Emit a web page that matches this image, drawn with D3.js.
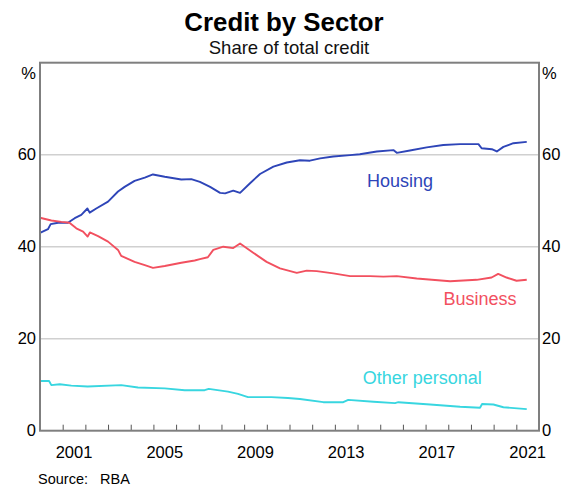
<!DOCTYPE html>
<html>
<head>
<meta charset="utf-8">
<script src="https://cdn.jsdelivr.net/npm/d3@7"></script>
<style>
  html, body { margin: 0; padding: 0; background: #fff; }
  svg { display: block; font-family: "Liberation Sans", Arial, sans-serif; }
</style>
</head>
<body>
<svg id="chart" width="568" height="488"></svg>
<script>
// ---- Data ----
const housingT = [2000.0, 2000.35, 2000.47, 2000.8, 2001.23, 2001.53, 2001.82, 2002.09, 2002.19, 2002.48, 2003.0, 2003.44, 2003.73, 2004.17, 2004.62, 2004.98, 2005.5, 2006.23, 2006.67, 2007.05, 2007.5, 2007.94, 2008.16, 2008.52, 2008.82, 2009.26, 2009.7, 2010.29, 2010.88, 2011.46, 2011.9, 2012.35, 2012.93, 2013.67, 2014.1, 2014.85, 2015.58, 2015.73, 2016.31, 2017.05, 2017.78, 2018.52, 2019.33, 2019.47, 2019.92, 2020.14, 2020.43, 2020.87, 2021.46];
const housingV = [43.0, 43.8, 44.9, 45.2, 45.2, 46.2, 46.9, 48.3, 47.4, 48.3, 49.8, 52.0, 53.0, 54.3, 55.0, 55.7, 55.2, 54.6, 54.7, 54.1, 53.0, 51.7, 51.6, 52.2, 51.7, 53.8, 55.8, 57.4, 58.3, 58.8, 58.7, 59.2, 59.6, 59.9, 60.1, 60.7, 61.0, 60.4, 60.9, 61.6, 62.1, 62.3, 62.3, 61.4, 61.2, 60.7, 61.7, 62.5, 62.8];

const businessT = [2000.0, 2000.5, 2000.94, 2001.3, 2001.6, 2001.9, 2002.1, 2002.2, 2002.56, 2003.0, 2003.44, 2003.58, 2004.17, 2004.62, 2004.98, 2005.5, 2006.23, 2006.82, 2007.05, 2007.4, 2007.64, 2008.08, 2008.52, 2008.82, 2009.4, 2009.99, 2010.58, 2011.32, 2011.76, 2012.2, 2012.93, 2013.67, 2014.55, 2015.14, 2015.73, 2016.61, 2018.08, 2019.25, 2019.91, 2020.2, 2020.57, 2021.01, 2021.46];
const businessV = [46.3, 45.7, 45.4, 45.2, 44.0, 43.3, 42.2, 43.1, 42.3, 41.1, 39.3, 38.0, 36.7, 36.0, 35.4, 35.8, 36.5, 37.0, 37.3, 37.7, 39.3, 40.0, 39.7, 40.7, 38.7, 36.7, 35.3, 34.3, 34.8, 34.7, 34.2, 33.6, 33.6, 33.5, 33.6, 33.1, 32.5, 32.8, 33.3, 34.1, 33.3, 32.6, 32.8];

const otherT = [2000.0, 2000.4, 2000.5, 2000.87, 2001.38, 2002.1, 2003.58, 2004.32, 2005.5, 2006.38, 2007.26, 2007.44, 2008.29, 2008.73, 2009.17, 2010.2, 2010.93, 2011.46, 2012.49, 2013.37, 2013.59, 2014.7, 2015.65, 2015.8, 2017.2, 2018.52, 2019.4, 2019.49, 2019.99, 2020.43, 2021.46];
const otherV = [10.8, 10.8, 9.9, 10.1, 9.8, 9.6, 9.9, 9.4, 9.2, 8.8, 8.8, 9.1, 8.5, 8.0, 7.3, 7.3, 7.1, 6.9, 6.2, 6.2, 6.7, 6.3, 6.0, 6.2, 5.7, 5.2, 5.0, 5.8, 5.7, 5.1, 4.7];

const yTicks = [0, 20, 40, 60];
const xTickYears = d3.range(2001, 2022);
const xLabelYears = [2001, 2005, 2009, 2013, 2017, 2021];

const seriesNames = ["Housing", "Business", "Other personal"];
const colors = ["#2e45b8", "#f2505f", "#38d6e0"];

// ---- Layout ----
const svg = d3.select("#chart");
const L = 40, R = 539, T = 62.7, B = 430.7;

const x = d3.scaleLinear().domain([2000, 2022]).range([L, R]);
const y = d3.scaleLinear().domain([0, 80]).range([B, T]);

// Title
svg.append("text").attr("x", 284).attr("y", 31).attr("text-anchor", "middle")
  .attr("font-size", 25.8).attr("font-weight", "bold").attr("fill", "#000").text("Credit by Sector");
svg.append("text").attr("x", 289).attr("y", 54).attr("text-anchor", "middle")
  .attr("font-size", 18.5).attr("fill", "#111").text("Share of total credit");

// Gridlines
svg.append("g").selectAll("line").data(yTicks.filter(d => d > 0)).join("line")
  .attr("x1", L).attr("x2", R).attr("y1", d => y(d)).attr("y2", d => y(d))
  .attr("stroke", "#d0d0d0").attr("stroke-width", 1.5);

// Left & right axis labels
const leftAxis = d3.axisLeft(y).tickValues(yTicks).tickSize(0).tickPadding(4);
const gl = svg.append("g").attr("transform", `translate(${L},0)`).call(leftAxis);
const rightAxis = d3.axisRight(y).tickValues(yTicks).tickSize(0).tickPadding(3);
const gr = svg.append("g").attr("transform", `translate(${R},0)`).call(rightAxis);
[gl, gr].forEach(g => {
  g.select(".domain").remove();
  g.selectAll("text").attr("font-size", 16.5).attr("fill", "#000")
    .attr("font-family", "Liberation Sans, Arial, sans-serif");
});
svg.append("text").attr("x", 36).attr("y", 79).attr("text-anchor", "end")
  .attr("font-size", 16.5).text("%");
svg.append("text").attr("x", 542).attr("y", 79).attr("text-anchor", "start")
  .attr("font-size", 16.5).text("%");

// Bottom ticks (inward)
const xAxis = d3.axisBottom(x).tickValues(xTickYears).tickSize(-6).tickFormat("");
const gx = svg.append("g").attr("transform", `translate(0,${B})`).call(xAxis);
gx.select(".domain").remove();
gx.selectAll("line").attr("stroke", "#555").attr("stroke-width", 1);

// Year labels at mid-year
svg.append("g").selectAll("text").data(xLabelYears).join("text")
  .attr("x", d => x(d + 0.5)).attr("y", 458).attr("text-anchor", "middle")
  .attr("font-size", 16.5).attr("fill", "#000").text(d => d);

// Lines
const line = d3.line().x(d => x(d[0])).y(d => y(d[1]));
const series = [
  d3.zip(housingT, housingV),
  d3.zip(businessT, businessV),
  d3.zip(otherT, otherV)
];
series.forEach((s, i) => {
  svg.append("path").datum(s).attr("d", line).attr("fill", "none")
    .attr("stroke", colors[i]).attr("stroke-width", 1.9).attr("stroke-linejoin", "round");
});

// Frame
svg.append("rect").attr("x", L).attr("y", T).attr("width", R - L).attr("height", B - T)
  .attr("fill", "none").attr("stroke", "#7f7f7f").attr("stroke-width", 2);

// Series labels
const labelPos = [[2015.87, 53.0], [2019.4, 27.3], [2016.85, 10.2]];
seriesNames.forEach((n, i) => {
  svg.append("text").attr("x", x(labelPos[i][0])).attr("y", y(labelPos[i][1]))
    .attr("text-anchor", "middle").attr("font-size", 18).attr("fill", colors[i]).text(n);
});

// Source
svg.append("text").attr("x", 38).attr("y", 484).attr("font-size", 14.5).attr("fill", "#000")
  .style("white-space", "pre").text("Source:   RBA");
</script>
</body>
</html>
